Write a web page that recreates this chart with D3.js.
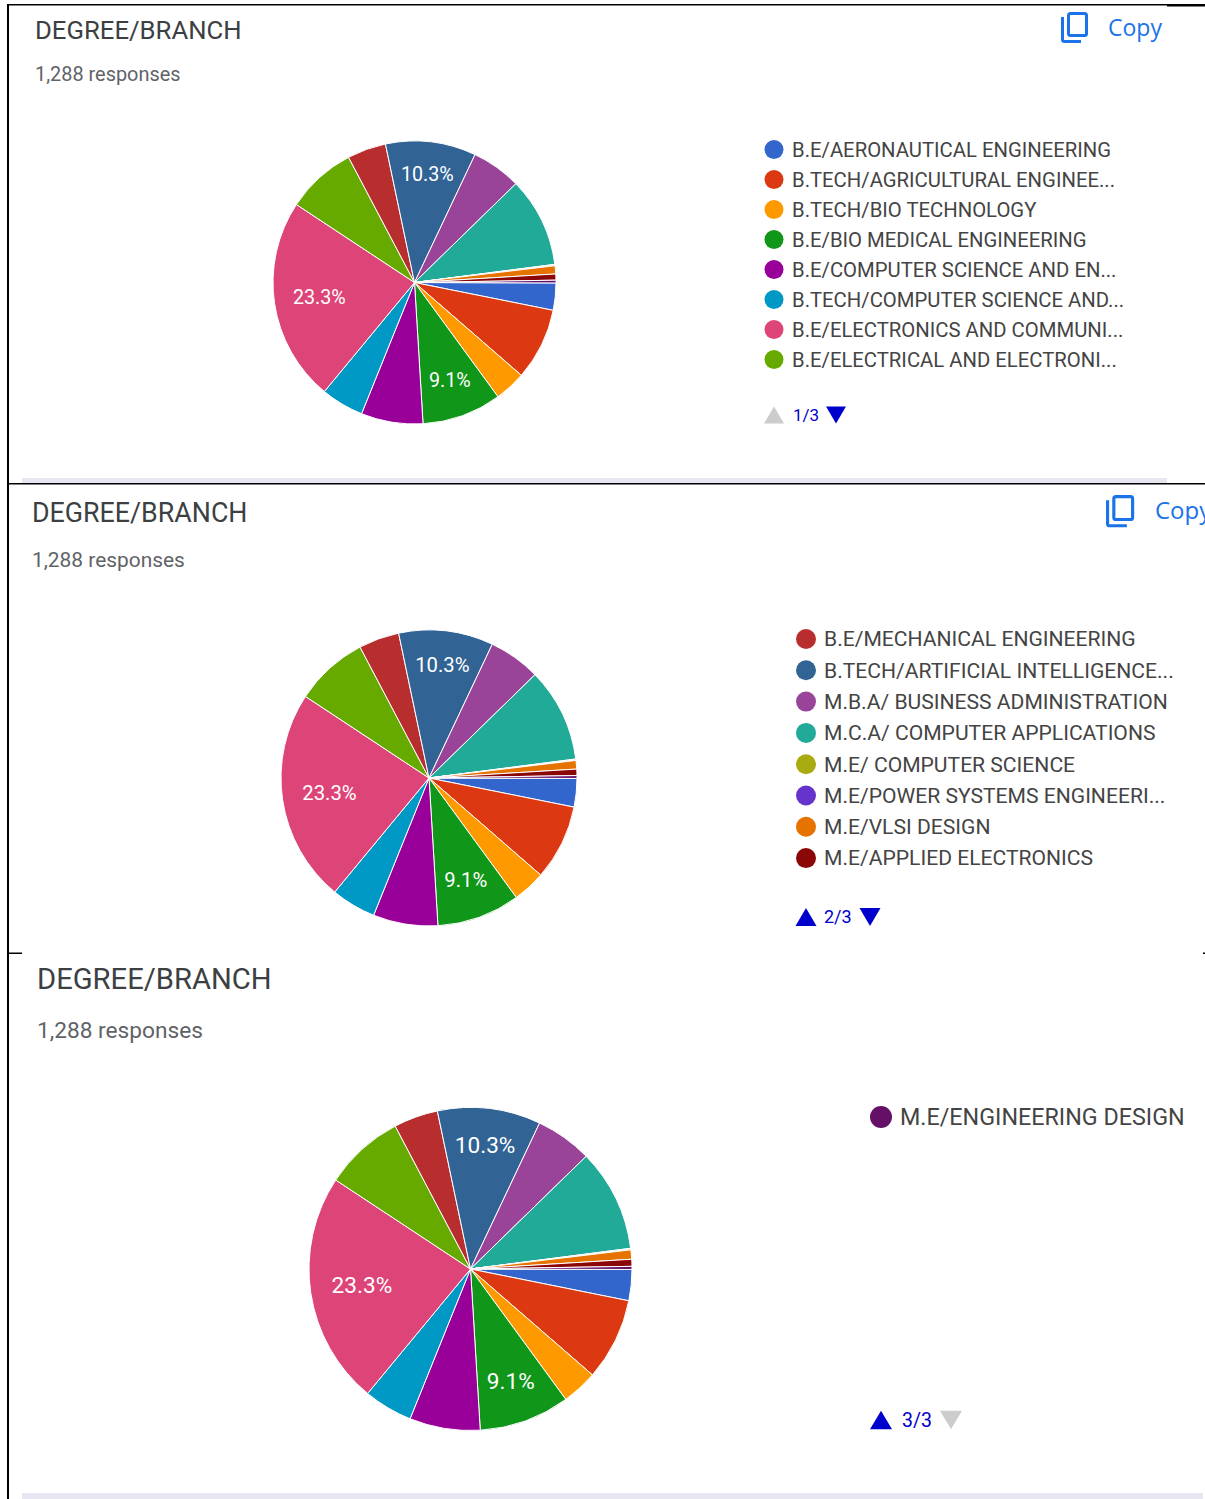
<!DOCTYPE html>
<html>
<head>
<meta charset="utf-8">
<script src="https://cdn.jsdelivr.net/npm/d3@7"></script>
<style>
  html, body { margin: 0; padding: 0; background: #fff; }
  svg { display: block; }
  text { font-family: Roboto, sans-serif; }
</style>
</head>
<body>
<script>
// Data
var categories = [
  "B.E/AERONAUTICAL ENGINEERING", "B.TECH/AGRICULTURAL ENGINEE...", "B.TECH/BIO TECHNOLOGY",
  "B.E/BIO MEDICAL ENGINEERING", "B.E/COMPUTER SCIENCE AND EN...", "B.TECH/COMPUTER SCIENCE AND...",
  "B.E/ELECTRONICS AND COMMUNI...", "B.E/ELECTRICAL AND ELECTRONI...",
  "B.E/MECHANICAL ENGINEERING", "B.TECH/ARTIFICIAL INTELLIGENCE...", "M.B.A/ BUSINESS ADMINISTRATION",
  "M.C.A/ COMPUTER APPLICATIONS", "M.E/ COMPUTER SCIENCE", "M.E/POWER SYSTEMS ENGINEERI...",
  "M.E/VLSI DESIGN", "M.E/APPLIED ELECTRONICS",
  "M.E/ENGINEERING DESIGN"
];
var responses = [40, 106, 46, 117, 91, 63, 300, 103, 57, 133, 73, 132, 1, 1, 12, 9, 4];
var colors = ["#3366cc", "#dc3912", "#ff9900", "#109618", "#990099", "#0099c6", "#dd4477", "#66aa00",
  "#b82e2e", "#316395", "#994499", "#22aa99", "#aaaa11", "#6633cc", "#e67300", "#8b0707", "#651067"];
var labelledSlices = [3, 6, 9];
var chartTitle = "DEGREE/BRANCH";
var subtitle = "1,288 responses";

var total = d3.sum(responses);
var pageSize = 8, pageCount = 3;

// How far out each slice label sits, as a share of the radius
var labelRadius = [0.735, 0.68, 0.77];

// One entry per screenshot, they are not the same scale
var panels = [
  { cx: 414.5, cy: 282.5, r: 141.5, titleX: 35, titleY: 30, titleSize: 25.7, subY: 74, subSize: 19.9,
    legendX: 774, legendY: 149.5, legendStep: 30, dot: 9.5, textX: 792, legendSize: 20.3, labelSize: 19.7,
    pagerY: 415, pagerTextX: 793, downX: 836, tri: 10, pagerSize: 17, copyX: 1061, copyY: 12, copyTextX: 1108, copySize: 23 },
  { cx: 429, cy: 778, r: 148, titleX: 32, titleY: 513, titleSize: 26.8, subY: 560, subSize: 20.9,
    legendX: 806, legendY: 639, legendStep: 31.3, dot: 10, textX: 824, legendSize: 21.1, labelSize: 20.3,
    pagerY: 917, pagerTextX: 824, downX: 870, tri: 10.5, pagerSize: 18, copyX: 1106, copyY: 495, copyTextX: 1155, copySize: 24 },
  { cx: 470.5, cy: 1269, r: 161.5, titleX: 37, titleY: 979, titleSize: 29.2, subY: 1030, subSize: 22.7,
    legendX: 881, legendY: 1117, legendStep: 34, dot: 11, textX: 900, legendSize: 23.3, labelSize: 22.6,
    pagerY: 1420, pagerTextX: 902, downX: 951, tri: 11, pagerSize: 19.5 }
];

var svg = d3.select("body").append("svg").attr("width", 1205).attr("height", 1499);

var color = d3.scaleOrdinal().domain(categories).range(colors);
var pie = d3.pie().sort(null).value(function(d) { return d; })
  .startAngle(Math.PI / 2 + 0.003).endAngle(Math.PI * 2.5 + 0.003);
var arcs = pie(responses);

function triangle(g, x, y, size, up, fill) {
  var s = up ? size : -size;
  g.append("path")
    .attr("d", "M" + (x - size) + "," + (y + s * 0.85) + "L" + (x + size) + "," + (y + s * 0.85) + "L" + x + "," + (y - s * 0.85) + "Z")
    .attr("fill", fill);
}

function drawCopy(g, p) {
  var k = p.copySize / 23;
  var icon = g.append("g").attr("transform", "translate(" + p.copyX + "," + p.copyY + ") scale(" + k + ")")
    .attr("fill", "none").attr("stroke", "#1a73e8").attr("stroke-width", 3);
  icon.append("path").attr("d", "M1.5,5V27.5a2,2 0 0 0 2,2H20");
  icon.append("rect").attr("x", 7.5).attr("y", 1.5).attr("width", 18).attr("height", 22).attr("rx", 2);
  g.append("text").attr("x", p.copyTextX).attr("y", p.copyY + 16).attr("dy", "0.35em")
    .attr("font-size", p.copySize).attr("fill", "#1a73e8")
    .style("font-family", "'Open Sans', sans-serif").text("Copy");
}

panels.forEach(function(p, page) {
  var g = svg.append("g");

  g.append("text").attr("x", p.titleX).attr("y", p.titleY).attr("dy", "0.35em")
    .attr("font-size", p.titleSize).attr("fill", "#3c4043").text(chartTitle);
  g.append("text").attr("x", p.titleX).attr("y", p.subY).attr("dy", "0.35em")
    .attr("font-size", p.subSize).attr("fill", "#5f6368").text(subtitle);

  if (p.copySize) drawCopy(g, p);

  // Pie
  var arc = d3.arc().innerRadius(0).outerRadius(p.r);
  var pieGroup = g.append("g").attr("transform", "translate(" + p.cx + "," + p.cy + ")");
  pieGroup.selectAll("path").data(arcs).enter().append("path")
    .attr("d", arc)
    .attr("fill", function(d, i) { return color(categories[i]); })
    .attr("stroke", "#fff").attr("stroke-width", 1);

  pieGroup.selectAll("text").data(labelledSlices).enter().append("text")
    .attr("transform", function(s, n) {
      var d = arcs[s], a = (d.startAngle + d.endAngle) / 2;
      var rr = p.r * labelRadius[n];
      return "translate(" + rr * Math.sin(a) + "," + (-rr * Math.cos(a)) + ")";
    })
    .attr("dy", "0.35em").attr("text-anchor", "middle")
    .attr("font-size", p.labelSize).attr("fill", "#fff")
    .text(function(s) { return d3.format(".1%")(responses[s] / total); });

  // Legend, one page per panel
  var pageItems = categories.slice(page * pageSize, (page + 1) * pageSize);
  var rows = g.selectAll("g.row").data(pageItems).enter().append("g").attr("class", "row")
    .attr("transform", function(d, i) { return "translate(0," + (p.legendY + i * p.legendStep) + ")"; });
  rows.append("circle").attr("cx", p.legendX).attr("r", p.dot)
    .attr("fill", function(d) { return color(d); });
  rows.append("text").attr("x", p.textX).attr("dy", "0.35em")
    .attr("font-size", p.legendSize).attr("fill", "#444").text(function(d) { return d; });

  // Pager
  triangle(g, p.legendX, p.pagerY, p.tri, true, page === 0 ? "#ccc" : "#0000cc");
  g.append("text").attr("x", p.pagerTextX).attr("y", p.pagerY).attr("dy", "0.35em")
    .attr("font-size", p.pagerSize).attr("fill", "#0000cc").text((page + 1) + "/" + pageCount);
  triangle(g, p.downX, p.pagerY, p.tri, false, page === pageCount - 1 ? "#ccc" : "#0000cc");
});

// Screenshot edges
svg.append("rect").attr("x", 22).attr("y", 478).attr("width", 1145).attr("height", 5).attr("fill", "#e8e6f0");
svg.append("rect").attr("x", 22).attr("y", 1493).attr("width", 1181).attr("height", 6).attr("fill", "#e8e6f0");
svg.append("rect").attr("x", 7).attr("y", 4).attr("width", 2).attr("height", 1495).attr("fill", "#000");
svg.append("rect").attr("x", 8).attr("y", 4).attr("width", 1197).attr("height", 1.5).attr("fill", "#000");
svg.append("rect").attr("x", 1167).attr("y", 4).attr("width", 38).attr("height", 2.5).attr("fill", "#000");
svg.append("rect").attr("x", 8).attr("y", 483).attr("width", 1197).attr("height", 1.5).attr("fill", "#000");
svg.append("rect").attr("x", 8).attr("y", 952.5).attr("width", 14).attr("height", 1.5).attr("fill", "#000");
svg.append("rect").attr("x", 1203).attr("y", 952.5).attr("width", 2).attr("height", 1.5).attr("fill", "#000");
</script>
</body>
</html>
